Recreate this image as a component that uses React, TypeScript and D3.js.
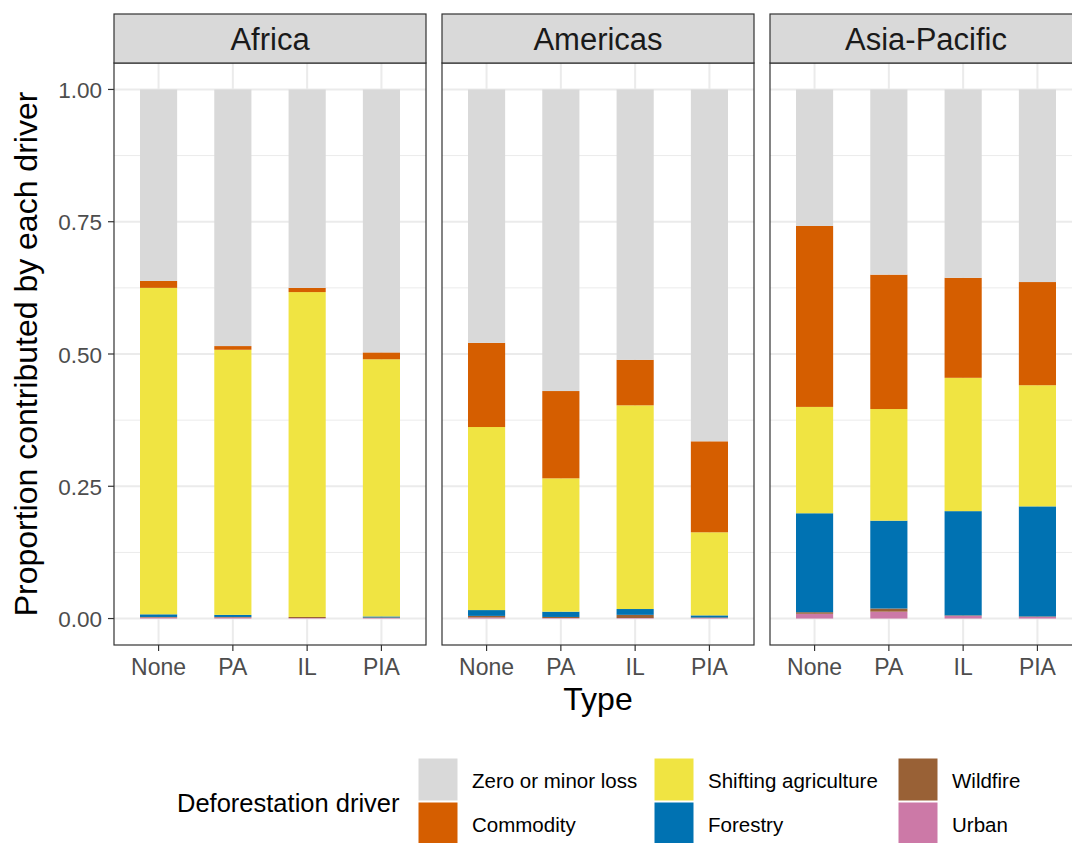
import React, { useEffect } from 'react';
import * as d3 from 'd3';

// facets and categories
const regions = ['Africa', 'Americas', 'Asia-Pacific'];
const types = ['None', 'PA', 'IL', 'PIA'];

// drivers, legend order (top of the stack first)
const drivers = ['Zero or minor loss', 'Commodity', 'Shifting agriculture', 'Forestry', 'Wildfire', 'Urban'];
const driverColors = ['#d9d9d9', '#d55e00', '#f0e442', '#0072b2', '#996136', '#cc79a7'];

// proportions per region, one array per driver, in the order of `types`
const zeroLoss = [
  [0.362, 0.485, 0.375, 0.497],
  [0.479, 0.570, 0.511, 0.665],
  [0.258, 0.350, 0.356, 0.364],
];
const commodity = [
  [0.013, 0.007, 0.008, 0.013],
  [0.159, 0.165, 0.086, 0.172],
  [0.342, 0.254, 0.189, 0.195],
];
const shifting = [
  [0.617, 0.501, 0.614, 0.486],
  [0.346, 0.252, 0.385, 0.157],
  [0.201, 0.211, 0.252, 0.229],
];
const forestry = [
  [0.005, 0.004, 0.000, 0.002],
  [0.011, 0.010, 0.011, 0.004],
  [0.187, 0.166, 0.197, 0.208],
];
const wildfire = [
  [0.001, 0.001, 0.002, 0.001],
  [0.003, 0.002, 0.006, 0.001],
  [0.003, 0.006, 0.001, 0.001],
];
const urban = [
  [0.002, 0.002, 0.001, 0.001],
  [0.002, 0.001, 0.001, 0.001],
  [0.009, 0.013, 0.005, 0.003],
];
const driverValues = [zeroLoss, commodity, shifting, forestry, wildfire, urban];

const yTicks = [0, 0.25, 0.5, 0.75, 1];
const yMinor = [0.125, 0.375, 0.625, 0.875];

const W = 1072;
const H = 843;
const FONT = 'Liberation Sans, Arial, Helvetica, sans-serif';

function App() {
  useEffect(() => {
    document.body.style.margin = '0';
  }, []);

  const panelW = 312;
  const panelGap = 16;
  const panelLeft = 114;
  const stripTop = 14;
  const stripH = 49;
  const panelTop = stripTop + stripH;
  const panelBottom = 645;

  const y = d3.scaleLinear().domain([-0.05, 1.05]).range([panelBottom, panelTop]);
  // ggplot discrete axis: 0.6 units of expansion each side, bars 0.5 units wide
  const x = d3.scaleLinear().domain([0.4, types.length + 0.6]).range([0, panelW]);
  const xPos = (t: string) => x(types.indexOf(t) + 1);
  const barW = x(1.5) - x(1);

  const legendKeyW = 40;
  const legendKeyH = 43;
  const legendCols = [418, 654, 898];
  const legendRows = [758, 802];

  return (
    <svg width={W} height={H} style={{ display: 'block', fontFamily: FONT }}>
      <rect width={W} height={H} fill="#fff" />
      {regions.map((region, ri) => {
        const left = panelLeft + ri * (panelW + panelGap);
        // stacked from bottom: reverse legend order
        const stackOrder = d3.range(drivers.length).reverse();
        return (
          <g key={region} transform={`translate(${left},0)`}>
            <rect x={0} y={panelTop} width={panelW} height={panelBottom - panelTop} fill="#fff" />
            {yMinor.map(v => (
              <line key={'mi' + v} x1={0} x2={panelW} y1={y(v)} y2={y(v)} stroke="#ebebeb" strokeWidth={1} />
            ))}
            {yTicks.map(v => (
              <line key={'ma' + v} x1={0} x2={panelW} y1={y(v)} y2={y(v)} stroke="#ebebeb" strokeWidth={2} />
            ))}
            {types.map(t => (
              <line key={'vx' + t} x1={xPos(t)} x2={xPos(t)} y1={panelTop} y2={panelBottom} stroke="#ebebeb" strokeWidth={2} />
            ))}
            {types.map((t, ti) => {
              let acc = 0;
              return stackOrder.map(di => {
                const v = driverValues[di][ri][ti];
                const y0 = acc;
                acc += v;
                if (v <= 0) return null;
                return (
                  <rect
                    key={t + di}
                    x={xPos(t) - barW / 2}
                    width={barW}
                    y={y(acc)}
                    height={y(y0) - y(acc)}
                    fill={driverColors[di]}
                  />
                );
              });
            })}
            <rect x={0} y={panelTop} width={panelW} height={panelBottom - panelTop} fill="none" stroke="#333" strokeWidth={1.2} />
            <rect x={0} y={stripTop} width={panelW} height={stripH} fill="#d9d9d9" stroke="#333" strokeWidth={1.2} />
            <text x={panelW / 2} y={50} textAnchor="middle" fontSize={31} fill="#1a1a1a">
              {region}
            </text>
            {types.map(t => (
              <g key={'xt' + t}>
                <line x1={xPos(t)} x2={xPos(t)} y1={panelBottom} y2={panelBottom + 6} stroke="#333" strokeWidth={1.2} />
                <text x={xPos(t)} y={675} textAnchor="middle" fontSize={23} fill="#4d4d4d">
                  {t}
                </text>
              </g>
            ))}
          </g>
        );
      })}
      {yTicks.map(v => (
        <g key={'yt' + v}>
          <line x1={panelLeft - 6} x2={panelLeft} y1={y(v)} y2={y(v)} stroke="#333" strokeWidth={1.2} />
          <text x={panelLeft - 12} y={y(v) + 8.5} textAnchor="end" fontSize={22.5} fill="#4d4d4d">
            {d3.format('.2f')(v)}
          </text>
        </g>
      ))}
      <text
        transform={`translate(37,${(panelTop + panelBottom) / 2}) rotate(-90)`}
        textAnchor="middle"
        fontSize={32}
        fill="#000"
      >
        Proportion contributed by each driver
      </text>
      <text x={panelLeft + (3 * panelW + 2 * panelGap) / 2} y={710} textAnchor="middle" fontSize={32} fill="#000">
        Type
      </text>
      <text x={177} y={812} fontSize={25.5} fill="#000">
        Deforestation driver
      </text>
      {drivers.map((d, i) => {
        const col = Math.floor(i / 2);
        const row = i % 2;
        const kx = legendCols[col];
        const ky = legendRows[row];
        return (
          <g key={'lg' + d}>
            <rect x={kx} y={ky} width={legendKeyW} height={legendKeyH} fill={driverColors[i]} stroke="#fff" strokeWidth={1} />
            <text x={kx + legendKeyW + 14} y={ky + legendKeyH / 2 + 8} fontSize={20.5} fill="#000">
              {d}
            </text>
          </g>
        );
      })}
    </svg>
  );
}

export default App;
